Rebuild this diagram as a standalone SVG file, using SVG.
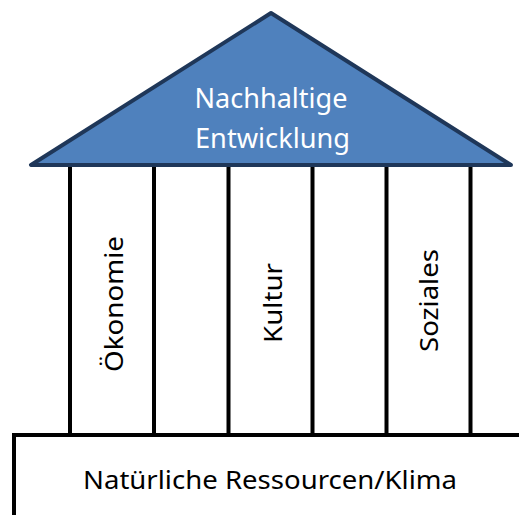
<svg xmlns="http://www.w3.org/2000/svg" width="519" height="515" viewBox="0 0 519 515">
<style>
.pillar{stroke:#000;stroke-width:4;fill:none}
.lbl{font-family:"Noto Sans","Open Sans",sans-serif;font-size:25px;fill:#000}
.roof{font-family:"Noto Sans","Open Sans",sans-serif;font-size:27px;fill:#fff}
</style>
<rect width="519" height="515" fill="#fff"/>
<g id="roof">
<polygon points="271,13 31,165 511,165" fill="#4f81bd" stroke="#1f3759" stroke-width="4" stroke-linejoin="round"/>
<text class="roof" x="271" y="108" text-anchor="middle" textLength="153" lengthAdjust="spacingAndGlyphs">Nachhaltige</text>
<text class="roof" x="272.5" y="147.5" text-anchor="middle" textLength="155" lengthAdjust="spacingAndGlyphs">Entwicklung</text>
</g>
<g id="pillars">
<line class="pillar" x1="70" y1="167" x2="70" y2="435"/>
<line class="pillar" x1="154" y1="167" x2="154" y2="435"/>
<line class="pillar" x1="228.5" y1="167" x2="228.5" y2="435"/>
<line class="pillar" x1="312.5" y1="167" x2="312.5" y2="435"/>
<line class="pillar" x1="386.5" y1="167" x2="386.5" y2="435"/>
<line class="pillar" x1="470.5" y1="167" x2="470.5" y2="435"/>
</g>
<g id="oekonomie">
<text class="lbl" transform="translate(123,304) rotate(-90)" text-anchor="middle" textLength="136" lengthAdjust="spacingAndGlyphs">Ökonomie</text>
</g>
<g id="kultur">
<text class="lbl" transform="translate(282,303) rotate(-90)" text-anchor="middle" textLength="80" lengthAdjust="spacingAndGlyphs">Kultur</text>
</g>
<g id="soziales">
<text class="lbl" transform="translate(438,300.5) rotate(-90)" text-anchor="middle" textLength="103" lengthAdjust="spacingAndGlyphs">Soziales</text>
</g>
<g id="base">
<path d="M14,520 V435 H525" fill="none" stroke="#000" stroke-width="4" stroke-linejoin="miter"/>
<text class="lbl" x="270" y="489" text-anchor="middle" textLength="374" lengthAdjust="spacingAndGlyphs">Natürliche Ressourcen/Klima</text>
</g>
</svg>
